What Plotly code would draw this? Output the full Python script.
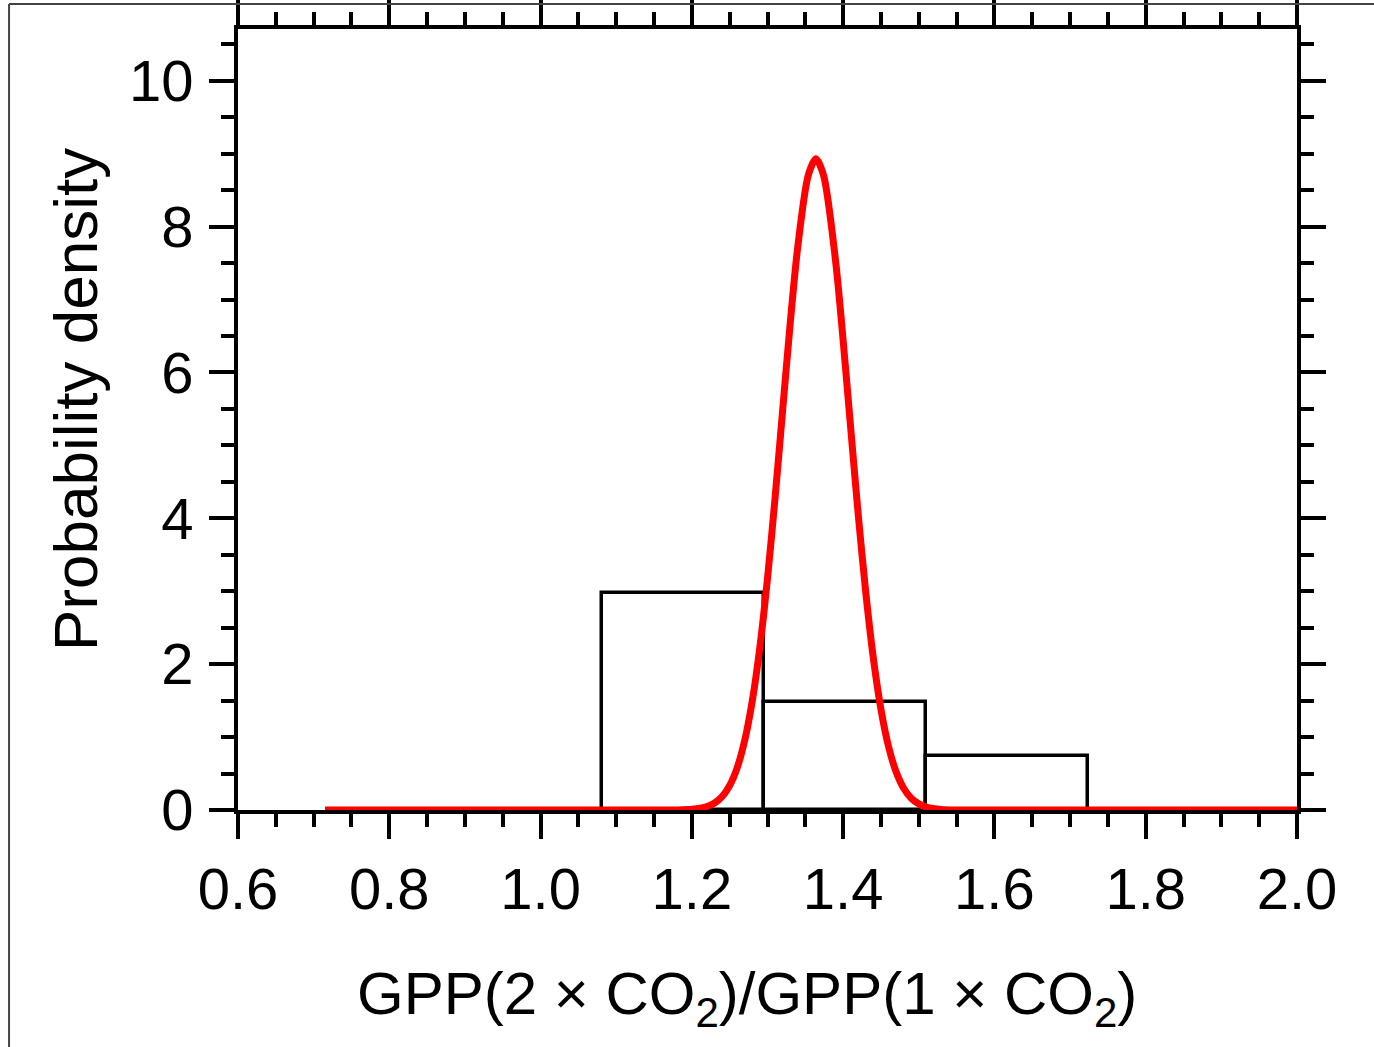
import plotly.graph_objects as go

# Histogram (bin edges and densities)
bin_edges = [1.081, 1.296, 1.509, 1.724]
bin_density = [2.97, 1.48, 0.74]

# Fitted probability density curve
curve_x = [0.715, 0.90, 1.00, 1.10, 1.15, 1.18, 1.20, 1.22, 1.23, 1.24, 1.25, 1.26, 1.27,
           1.28, 1.29, 1.30, 1.31, 1.32, 1.33, 1.34, 1.354, 1.364, 1.374, 1.39,
           1.40, 1.41, 1.42, 1.43, 1.44, 1.45, 1.46, 1.47, 1.48, 1.49, 1.50,
           1.51, 1.53, 1.55, 1.60, 1.70, 1.85, 2.00]
curve_y = [0.0, 0.0, 0.0, 0.0, 0.0, 0.001, 0.010, 0.048, 0.096, 0.184, 0.336, 0.582, 0.959,
           1.503, 2.241, 3.175, 4.277, 5.478, 6.670, 7.722, 8.707, 8.93, 8.707, 7.529,
           6.438, 5.234, 4.045, 2.973, 2.077, 1.380, 0.871, 0.524, 0.299, 0.162, 0.084,
           0.041, 0.0085, 0.001, 0.0, 0.0, 0.0, 0.0]

x_range = [0.6, 2.0]
y_range = [0, 10.71]
x_title = "GPP(2 \u00d7 CO<sub>2</sub>)/GPP(1 \u00d7 CO<sub>2</sub>)"
y_title = "Probability density"

centers = [(a + b) / 2 for a, b in zip(bin_edges[:-1], bin_edges[1:])]
widths = [b - a for a, b in zip(bin_edges[:-1], bin_edges[1:])]

FONT = "Liberation Sans, Arial, Helvetica, sans-serif"

fig = go.Figure()
fig.add_trace(go.Bar(
    x=centers, y=bin_density, width=widths,
    marker=dict(color="rgba(0,0,0,0)", line=dict(color="black", width=3.5)),
    showlegend=False, hoverinfo="skip",
))
fig.add_trace(go.Scatter(
    x=curve_x, y=curve_y, mode="lines",
    line=dict(color="#ff0000", width=7, shape="spline", smoothing=0.8),
    showlegend=False,
))

axis_common = dict(
    showline=True, linecolor="black", linewidth=4,
    ticks="outside", ticklen=25, tickwidth=3.5, tickcolor="black",
    mirror="allticks", showgrid=False, zeroline=False,
    tickfont=dict(family=FONT, size=58, color="black"),
    layer="above traces", automargin=False,
)

fig.update_xaxes(
    range=x_range, dtick=0.2, tick0=0.6, tickformat=".1f",
    minor=dict(dtick=0.05, ticklen=13, tickwidth=3.5, tickcolor="black", ticks="outside", showgrid=False),
    **axis_common,
)
fig.update_yaxes(
    range=y_range, dtick=2, tick0=0, ticklabelstandoff=4,
    minor=dict(dtick=0.5, ticklen=13, tickwidth=3.5, tickcolor="black", ticks="outside", showgrid=False),
    **axis_common,
)

# axis titles
fig.add_annotation(text=x_title, xref="paper", yref="paper", x=0.4806, y=0,
                   xanchor="center", yanchor="top", yshift=-148, showarrow=False,
                   font=dict(family=FONT, size=60, color="black"))
fig.add_annotation(text=y_title, xref="paper", yref="paper", x=0, y=0.525,
                   xanchor="center", yanchor="middle", xshift=-162, textangle=-90,
                   showarrow=False, font=dict(family=FONT, size=62, color="black"))

# thin outer frame (top and left edges of the original figure border)
fig.add_shape(type="line", xref="paper", yref="paper", x0=-0.2162, x1=1.2, y0=1.032, y1=1.032,
              line=dict(color="#444", width=2))
fig.add_shape(type="line", xref="paper", yref="paper", x0=-0.2162, x1=-0.2162, y0=1.032, y1=-0.35,
              line=dict(color="#444", width=2))

fig.update_layout(
    width=1374, height=1047,
    margin=dict(l=238, r=77, t=29, b=237, pad=0),
    plot_bgcolor="white", paper_bgcolor="white",
    bargap=0, barmode="overlay",
    font=dict(family=FONT, color="black"),
)

fig.write_html("out.html", config={"displayModeBar": False},
               post_script="document.body.style.margin='0';")
